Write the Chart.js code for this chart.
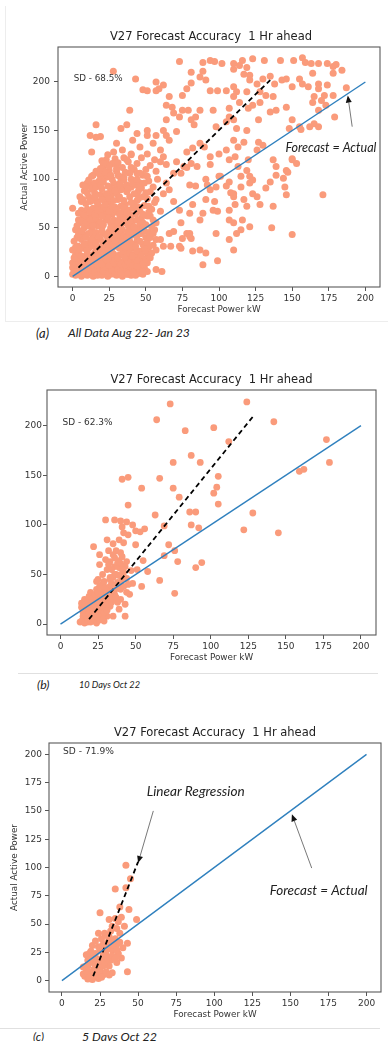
<!DOCTYPE html>
<html>
<head>
<meta charset="utf-8">
<script src="https://cdn.jsdelivr.net/npm/chart.js@4.4.1/dist/chart.umd.min.js"></script>
<style>
html,body{margin:0;padding:0;background:#fff;}
#page{position:relative;width:388px;height:1041px;overflow:hidden;background:#fff;}
canvas{position:absolute;left:0;}
.cap{position:absolute;font-family:Lato,"Liberation Sans",sans-serif;font-style:italic;color:#222;white-space:nowrap;line-height:1;}
.rule{position:absolute;height:0;border-top:1px solid #e0e0e0;}
</style>
</head>
<body>
<div id="page">
  <div style="position:absolute;left:5px;top:6px;width:382px;height:315px;border-left:1px solid #ededed;border-bottom:1px solid #ededed;"></div>
  <canvas id="cA" width="422" height="320" style="top:0px"></canvas>
  <canvas id="cB" width="388" height="310" style="top:355px"></canvas>
  <canvas id="cC" width="388" height="310" style="top:715px"></canvas>
  <span class="cap" data-w="13" data-cy="333" style="left:36px;font-size:12px">(a)</span>
  <span class="cap" data-w="122" data-cy="333" style="left:68px;font-size:12px">All Data Aug 22- Jan 23</span>
  <div class="rule" style="left:18px;top:673px;width:360px"></div>
  <span class="cap" data-w="12.5" data-cy="685" style="left:37px;font-size:11px">(b)</span>
  <span class="cap" data-w="61" data-cy="685" style="left:79px;font-size:10px">10 Days Oct 22</span>
  <div class="rule" style="left:0px;top:1028px;width:380px"></div>
  <span class="cap" data-w="11" data-cy="1037" style="left:33px;font-size:12px">(c)</span>
  <span class="cap" data-w="75" data-cy="1037" style="left:82px;font-size:12px">5 Days Oct 22</span>
</div>
<script>
// ---------------- text ----------------
const chartTitle = 'V27 Forecast Accuracy  1 Hr ahead';
const xAxisTitle = 'Forecast Power kW';
const yAxisTitle = 'Actual Active Power';

// ---------------- tick labels ----------------
const xTickValues = [0, 25, 50, 75, 100, 125, 150, 175, 200];
const yTicksAB = [0, 50, 100, 150, 200];
const yTicksC = [0, 25, 50, 75, 100, 125, 150, 175, 200];

// ---------------- reference lines ----------------
const identityLine = [[0, 0], [200, 200]];           // Forecast = Actual
const regressionA = [[4, 9], [135, 202]];
const regressionB = [[19, 5], [128, 209]];
const regressionC = [[20.5, 4], [50, 105]];

// ---------------- (a) All data Aug 22 - Jan 23 : [forecast kW, actual] ----------------
const aDense = [
[0,2],[2,1],[4,3],[6,0],[8,2],[10,1],[12,4],[14,0],[16,2],[18,5],[20,1],[22,3],[24,0],[26,2],[28,4],[30,1],[32,3],[34,0],[36,5],[38,2],[40,1],[1,6],[5,8],[9,7],[13,9],[17,8],[21,10],[25,7],[29,9],[33,8],[39,9],[42,6],[45,3],[3,10],[44,12],
[0,14],[3,18],[6,12],[8,20],[11,15],[14,22],[16,13],[19,18],[22,24],[24,14],[27,20],[30,12],[32,22],[35,16],[37,24],[40,18],[42,13],[45,20],[47,16],[2,22],[10,24],[18,11],[26,16],[34,11],[39,13],[49,9],[51,5],[5,16],[13,19],[21,15],[29,17],[38,19],[43,23],
[1,27],[4,31],[6,38],[9,28],[12,35],[14,42],[17,30],[19,38],[21,44],[23,28],[26,36],[28,42],[30,31],[33,39],[35,27],[37,34],[40,42],[42,29],[44,37],[46,26],[48,33],[50,40],[7,44],[16,26],[31,44],[52,30],[54,24],[3,40],[10,33],[15,36],[24,33],[32,34],[39,30],[20,31],[27,29],
[2,48],[5,55],[8,50],[10,60],[13,47],[15,57],[18,63],[20,50],[23,58],[25,46],[27,64],[29,53],[32,59],[34,48],[36,62],[38,52],[41,57],[43,64],[45,49],[47,60],[50,53],[52,45],[55,58],[11,52],[22,65],[30,47],[17,52],[26,55],[35,55],[40,47],[7,62],
[6,68],[9,75],[11,82],[14,70],[16,78],[19,84],[21,68],[24,76],[26,83],[29,71],[31,79],[34,66],[36,74],[39,82],[41,70],[44,78],[46,67],[49,73],[51,80],[54,69],[56,76],[18,72],[28,66],[38,68],[13,62],[23,70],[33,72],
[8,88],[12,94],[15,86],[18,98],[20,90],[23,102],[26,88],[28,96],[31,104],[34,92],[37,87],[40,100],[43,94],[45,88],[48,104],[52,98],[55,92],[58,100],[14,104],[33,98],[22,82],[30,85],
[16,108],[21,113],[25,109],[29,121],[34,112],[38,118],[42,110],[47,122],[53,114],[57,108],[60,118],[27,116],
[0,70],[0,27],[3,17],[0,9],[7,94],[10,96],[6,77],[12,77],[5,44],[4,58],
[13,103],[19,103],[23,115],[29,116],[32,103],[35,99],[39,106],[15,96],[26,91],[33,89],[40,92],[44,85],[46,96],[48,82],[53,87],[52,72],[53,62],[48,55],[46,44],[51,24],[45,14],[51,14]
];
const aDenseFill = [
[1,4],[3,7],[5,2],[7,5],[9,3],[11,8],[13,6],[15,4],[17,1],[19,7],[21,5],[23,9],[25,3],[27,6],[29,2],[31,7],[33,5],[35,9],[37,7],[39,4],[41,8],[43,1],[46,7],[48,2],
[2,12],[4,15],[7,9],[9,13],[12,11],[15,16],[17,12],[20,13],[23,17],[25,11],[28,14],[31,16],[33,13],[36,12],[38,15],[41,11],[44,16],[46,10],[48,13],[50,18],
[1,19],[4,24],[6,21],[9,18],[12,21],[15,24],[18,21],[20,25],[23,21],[25,24],[28,23],[31,19],[34,23],[36,20],[39,24],[41,21],[44,26],[47,22],[50,27],[53,19],
[2,30],[5,28],[8,33],[11,29],[13,31],[16,34],[18,28],[21,34],[24,38],[27,32],[29,37],[32,29],[34,35],[36,31],[39,36],[41,33],[43,31],[46,36],[49,30],[51,35],[55,32],[57,38],
[1,36],[4,43],[6,47],[9,40],[11,44],[13,38],[16,45],[18,41],[20,47],[23,42],[25,40],[27,47],[30,42],[32,46],[35,42],[37,40],[38,46],[42,45],[44,42],[47,44],[49,47],[53,40],[56,48],
[3,52],[6,57],[9,55],[12,58],[14,52],[16,60],[19,56],[21,53],[24,61],[26,50],[28,58],[31,55],[33,52],[35,58],[37,64],[39,56],[42,51],[44,58],[46,54],[48,50],[51,62],[54,51],
[4,65],[8,64],[10,69],[12,66],[15,64],[17,68],[20,62],[22,74],[25,67],[27,72],[30,68],[32,64],[35,70],[37,66],[40,63],[42,74],[45,71],[48,64],[52,66],
[5,82],[7,79],[10,86],[13,78],[15,82],[17,75],[20,79],[23,85],[25,80],[28,78],[30,91],[32,82],[35,78],[37,94],[40,76],[42,85],[45,80],[47,91],[50,86],
[9,92],[11,99],[13,90],[16,92],[19,94],[21,97],[24,93],[27,100],[29,88],[32,95],[35,102],[38,90],[41,96],[44,100],[46,92],[49,96],
[18,106],[22,107],[26,104],[30,108],[36,107],[40,112],[44,106],[50,110],[20,119],[31,117],[35,122],[24,125],[40,125]
];
const aUpper = [
[27.8,211],[43,203],[48,192],[73,221],[81,199],[89,220],[94,222],[97,221],[102,219],[110,219],[116,222],[123,224],[131,222],[142,222],[151,222],[157,225],[159,220],[163,219],[168,219],[174,219],[178,216],[184,212],[180,218],
[114,217],[119,215],[110,213],[117,208],[121,207],[89,211],[91,202],[87,205],[81,210],
[62,197],[59,193],[57,200],[57,191],[51,191],[78,193],[75,186],[66,185],[64,176],[68,174],
[94,191],[99,191],[105,191],[110,195],[112,190],[119,190],[121,202],[126,198],[130,203],[135,206],[138,198],[143,202],[146,203],[150,195],[155,203],[157,198],[161,195],[164,209],[168,198],[168,193],[174,197],[178,209],[187,194],
[128,190],[132,186],[137,185],[128,179],[123,176],[120,173],[114,179],[110,185],[107,173],[107,164],[110,161],[112,152],[105,159],[98,154],[96,171],
[87,171],[84,164],[81,161],[83,156],[79,171],[73,164],[75,171],[69,168],[64,161],[62,150],[57,145],[64,145],[66,140],[71,149],
[51,150],[51,145],[44,147],[39,171],[37,156],[33,152],[16,156],[12,145],[19,144],[13,128],[16,143],
[135,169],[139,171],[146,174],[150,161],[148,152],[155,154],[156,151],[162,154],[165,157],[168,154],[164,179],[168,171],[173,176],[179,164],[178,186],[172,186],[165,185],[170,181],
[127,161],[130,135],[127,138],[126,130],[119,150],[117,138],[113,133],[110,140],[111,123],[107,120],[105,130],[100,126],[94,123],[90,133],[87,137],[82,132],[78,128],[81,116],[76,113],[71,118],[74,106],[69,106],[64,115],[62,123],[60,130],[55,137],[51,126],[56,120],[46,133],[41,140],[40,126],[34,130],[30,137],[28,128],[23,120],[25,113],[21,116],[19,111],[30,111],[37,120],[44,116],[46,106],[51,103]
];
const aLowerRight = [
[137,120],[139,113],[150,120],[153,116],[146,109],[144,101],[135,97],[132,91],[145,92],[146,84],[171,84],[150,121],[139,104],[147,107],
[120,120],[119,109],[113,113],[115,103],[115,92],[117,79],[119,72],[111,74],[107,68],[110,85],[107,97],[100,103],[98,92],[94,89],[91,79],[96,68],[99,67],[89,65],[87,58],[82,74],[80,65],[74,55],[73,68],[69,77],[66,89],[64,96],[62,85],[57,79],[60,67],[57,55],[55,44],[60,38],[57,27],[62,31],[66,44],[69,46],[75,39],[78,44],[80,44],[81,39],[74,29],[73,31],[82,26],[87,27],[91,24],[89,12],[99,16],[98,44],[107,38],[110,27],[112,44],[110,55],[107,58],[115,48],[136,50],[150,43],[137,72],[126,82],[128,74],[121,103],[123,99],
[121,51],[116,58],[123,85],[121,96],[110,82],[108,86],[105,93],[97,77],[101,103],[91,100],[92,94],[84,93],[80,94],[78,112],[85,113],[94,115],[67,31],[80,41],
[57,7],[61,5],[41,4],[44,10],[48,5],[37,2],[33,2]
];

// ---------------- (b) 10 days Oct 22 ----------------
const bPoints = [
[73,222],[124,224],[64,206],[142,204],[83,195],[102,198],[112,184],[177,186],[179,163],[159,154],[162,156],[87,170],[75,163],[93,163],
[41,146],[45,148],[66,147],[54,137],[75,137],[104,138],[105,149],[102,132],[79,128],[105,121],[45,120],[63,110],[86,113],[90,113],[128,112],
[30,105],[36,105],[40,104],[44,103],[48,100],[69,99],[87,100],[92,97],[45,90],[50,94],[53,93],[56,96],[122,95],[145,92],
[31,85],[35,81],[42,82],[50,80],[22,78],[72,80],[32,74],[37,74],[40,72],[76,74],[26,70],[69,69],[36,67],[39,64],[44,63],[55,64],[78,63],[94,62],[90,57],
[26,60],[31,55],[47,54],[51,55],[58,53],[24,43],[66,44],[41,45],[33,47],[48,41],[54,38],[76,31],[43,8],
[36,35],[27,32],[20,32],[32,25],[40,25],[39,15],[35,8],[22,3],[18,2],[16,5],[15,12],[19,18],[24,20],[29,17],[33,18],[38,22],[27,7],[31,8],
[16,25],[21,23],[27,25],[18,13],[23,10],[36,30],[40,35],[44,32],[29,35],[33,38],[38,42],[29,43],[42,52],[39,57],[36,58],[40,61],[43,58],[33,63],[30,65],[41,68],[36,50],[32,35],[24,35],[22,28],[15,8],[19,6],[27,13],[20,10],[13,2],
[41,98],[42,92],[39,85],[17,15],[21,14],[25,16],[17,20],[30,22],[26,28],[34,27],[23,6],[29,3],[14,17]
];
const bCluster = [
[14,3],[16,1],[18,4],[20,2],[22,5],[24,1],[26,4],[28,6],[17,9],[19,11],[21,8],[23,14],[25,10],[27,16],[29,12],[31,14],[15,15],[17,17],[14,21],[16,21],[18,24],[20,20],[22,18],[24,24],[26,21],[28,19],[30,26],[32,20],[34,22],
[19,28],[21,26],[23,30],[25,32],[27,28],[29,30],[31,31],[33,33],[35,25],[37,27],[26,38],[28,40],[30,37],[34,41],[36,39],[38,36],[40,40],[42,38],[33,45],[35,47],[37,50],[39,49],[41,55],[38,62],[34,55],[32,60],[35,70],[44,46],[45,40],[46,30],[43,20],[25,45],[28,50]
];

// ---------------- (c) 5 days Oct 22 ----------------
const cPoints = [
[42,102],[45,90],[42,82],[35,81],[38,65],[44,63],[49,54],[31,54],[25,60],[39,56],[35,55],[41,48],[36,46],[32,44],[24,42],[43,33],[43,8],
[39,20],[37,24],[33,27],[36,32],[31,36],[27,32],[20,31],[19,26],[25,27],[29,23],[32,18],[27,18],[22,20],[17,18],[16,13],[18,8],[23,13],[27,13],[31,13],[36,16],
[15,4],[17,1.5],[20,1],[24,2],[27,5],[33,7],[19,5],[25,9],[20,16],[29,27],[35,37],[38,42],[22,24],[16,23],[40,29],[31,39],[28,42],[21,10],[24,17],[30,30],
[14,6],[16,8],[18,3],[21,4],[23,7],[26,3],[29,8],[31,5],[14,12],[17,13],[19,19],[22,15],[25,19],[28,16],[30,20],[33,22],[35,20],[18,24],[20,22],[24,30],[27,24],[30,34],[33,31],[34,36],[36,27],[38,34],[26,37],[29,40],[33,48],[37,52],[22,35]
];

// ---------------- annotations ----------------
const sdFont = {family: '"DejaVu Sans", sans-serif', style: '', size: 8.8};
const noteFont = {family: 'Lato, "Liberation Sans", sans-serif', style: 'italic ', size: 12};
const notesA = {
  texts: [
    {text: 'SD - 68.5%', at: [0.7, 203], font: sdFont, width: 49, color: '#333'},
    {text: 'Forecast = Actual', at: [145.4, 132], font: noteFont, width: 91, color: '#222'}
  ],
  arrows: [{from: [191, 154], to: [188, 186]}]
};
const notesB = {
  texts: [{text: 'SD - 62.3%', at: [1.3, 203], font: sdFont, width: 50, color: '#333'}],
  arrows: []
};
const notesC = {
  texts: [
    {text: 'SD - 71.9%', at: [0.7, 202], font: sdFont, width: 51, color: '#333'},
    {text: 'Linear Regression', at: [55.7, 167], font: noteFont, width: 98, color: '#222'},
    {text: 'Forecast = Actual', at: [136.4, 79.3], font: noteFont, width: 98, color: '#222'}
  ],
  arrows: [{from: [60, 150], to: [50, 104]}, {from: [164, 99.5], to: [151, 147]}]
};

// ---------------- drawing ----------------
Chart.defaults.font.family = '"DejaVu Sans", sans-serif';
Chart.defaults.color = '#333';

const figNotes = {
  id: 'figNotes',
  afterDatasetsDraw(chart, args, opts) {
    const {ctx, chartArea: ca} = chart;
    const sx = chart.scales.x, sy = chart.scales.y;
    ctx.save();
    ctx.strokeStyle = '#5a5a5a';
    ctx.lineWidth = 1.1;
    ctx.strokeRect(ca.left, ca.top, ca.right - ca.left, ca.bottom - ca.top);
    (opts.arrows || []).forEach(a => {
      const x1 = sx.getPixelForValue(a.from[0]), y1 = sy.getPixelForValue(a.from[1]);
      const x2 = sx.getPixelForValue(a.to[0]), y2 = sy.getPixelForValue(a.to[1]);
      const ang = Math.atan2(y2 - y1, x2 - x1);
      const hl = 7, hw = 3;
      const bx = x2 - hl * Math.cos(ang), by = y2 - hl * Math.sin(ang);
      ctx.strokeStyle = '#555';
      ctx.lineWidth = 0.8;
      ctx.beginPath(); ctx.moveTo(x1, y1); ctx.lineTo(bx, by); ctx.stroke();
      ctx.fillStyle = '#111';
      ctx.beginPath();
      ctx.moveTo(x2, y2);
      ctx.lineTo(bx + hw * Math.sin(ang), by - hw * Math.cos(ang));
      ctx.lineTo(bx - hw * Math.sin(ang), by + hw * Math.cos(ang));
      ctx.closePath(); ctx.fill();
    });
    (opts.texts || []).forEach(t => {
      const f = t.font;
      ctx.font = f.style + f.size + 'px ' + f.family;
      let size = f.size;
      if (t.width) {
        size = f.size * t.width / ctx.measureText(t.text).width;
        ctx.font = f.style + size.toFixed(2) + 'px ' + f.family;
      }
      ctx.fillStyle = t.color;
      ctx.textAlign = 'left';
      ctx.textBaseline = 'middle';
      ctx.fillText(t.text, sx.getPixelForValue(t.at[0]), sy.getPixelForValue(t.at[1]));
    });
    ctx.restore();
  }
};

const toXY = arr => arr.map(p => ({x: p[0], y: p[1]}));

function panel(id, c) {
  const scales = {
    x: {
      type: 'linear', position: 'bottom', min: c.xMin, max: c.xMax,
      afterFit: s => { s.height = c.xH; },
      afterBuildTicks: s => { s.ticks = xTickValues.map(v => ({value: v})); },
      ticks: {font: {size: 9}, padding: 2, color: '#333', maxRotation: 0, minRotation: 0, autoSkip: false},
      grid: {display: true, drawOnChartArea: false, drawTicks: true, tickLength: 4, tickColor: '#555'},
      border: {display: false},
      title: {display: true, text: xAxisTitle, font: {size: 8.8, lineHeight: 1.2}, color: '#333', padding: {top: 0, bottom: c.xTitlePad}}
    },
    y: {
      type: 'linear', position: 'left', min: c.yMin, max: c.yMax,
      afterFit: s => { s.width = c.yW; },
      afterBuildTicks: s => { s.ticks = c.yTicks.map(v => ({value: v})); },
      ticks: {font: {size: 9}, padding: c.yTickPad, color: '#333', autoSkip: false},
      grid: {display: true, drawOnChartArea: false, drawTicks: true, tickLength: 4, tickColor: '#555'},
      border: {display: false},
      title: {display: c.yTitle, text: yAxisTitle, font: {size: 8.8, lineHeight: 1.2}, color: '#333', padding: {top: c.yTitlePad, bottom: 0}}
    }
  };
  if (c.rightW) {
    scales.yr = {
      type: 'linear', position: 'right', display: true,
      ticks: {display: false}, grid: {display: false}, border: {display: false},
      afterFit: s => { s.width = c.rightW; }
    };
  }
  return new Chart(document.getElementById(id), {
    type: 'scatter',
    data: {
      datasets: [
        {type: 'line', data: toXY(identityLine), borderColor: '#2f80be', borderWidth: 1.4, pointRadius: 0, fill: false, order: 0},
        {type: 'line', data: toXY(c.reg), borderColor: '#000', borderWidth: 1.8, borderDash: [5, 3.5], pointRadius: 0, fill: false, order: 0},
        {type: 'scatter', data: toXY(c.points), backgroundColor: '#FA9B7B', borderWidth: 0, pointRadius: c.r, order: 1}
      ]
    },
    options: {
      responsive: false, animation: false, events: [],
      layout: {padding: c.padding},
      plugins: {
        legend: {display: false}, tooltip: {enabled: false},
        title: {display: true, text: chartTitle, fullSize: c.titleFull, color: '#222',
                font: {size: 11.5, weight: 'normal', lineHeight: 1.2}, padding: c.titlePad},
        figNotes: c.notes
      },
      scales
    },
    plugins: [figNotes]
  });
}

// captions: size each to its measured width in the reference, centred on its line
document.querySelectorAll('.cap').forEach(el => {
  const target = parseFloat(el.dataset.w);
  const fs = parseFloat(el.style.fontSize);
  const w = el.getBoundingClientRect().width;
  const nfs = fs * target / w;
  el.style.fontSize = nfs.toFixed(2) + 'px';
  el.style.top = (parseFloat(el.dataset.cy) - nfs / 2).toFixed(1) + 'px';
});

panel('cA', {
  points: aDense.concat(aDenseFill, aUpper, aLowerRight), reg: regressionA, r: 3.5,
  xMin: -10, xMax: 210, yMin: -11, yMax: 236, yTicks: yTicksAB,
  xH: 33, yW: 58, rightW: 42, yTitle: true, yTitlePad: 19.7, yTickPad: 4, xTitlePad: 4.7,
  padding: {left: 0, right: 0, top: 0, bottom: 0},
  titleFull: true, titlePad: {top: 30.1, bottom: 3.1}, notes: notesA
});
panel('cB', {
  points: bPoints.concat(bCluster), reg: regressionB, r: 3.4,
  xMin: -9, xMax: 210, yMin: -11, yMax: 236, yTicks: yTicksAB,
  xH: 30, yW: 47, yTitle: false, yTitlePad: 0, yTickPad: 1, xTitlePad: 1.7,
  padding: {left: 0, right: 12, top: 0, bottom: 0},
  titleFull: false, titlePad: {top: 18.1, bottom: 3.1}, notes: notesB
});
panel('cC', {
  points: cPoints, reg: regressionC, r: 3.5,
  xMin: -8.5, xMax: 209.5, yMin: -10, yMax: 210, yTicks: yTicksC,
  xH: 33, yW: 49, yTitle: true, yTitlePad: 9.7, yTickPad: 3, xTitlePad: 4.7,
  padding: {left: 0, right: 7, top: 0, bottom: 0},
  titleFull: false, titlePad: {top: 11.1, bottom: 3.1}, notes: notesC
});
</script>
</body>
</html>
